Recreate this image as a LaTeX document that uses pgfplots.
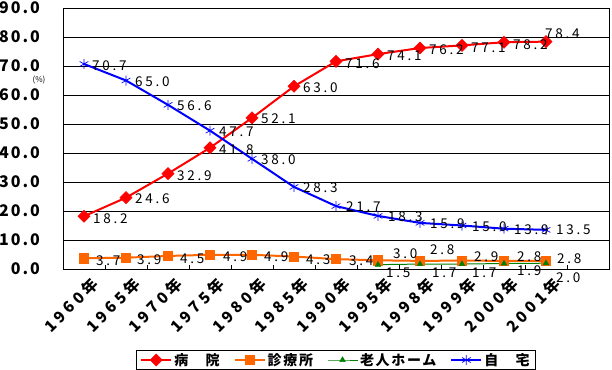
\documentclass[border=0pt]{standalone}
\usepackage{fontspec}
\setmainfont{Noto Sans CJK JP}
\newfontfamily\lblfont[LetterSpace=20]{Noto Sans CJK JP}
\newfontfamily\legfont[LetterSpace=12]{Noto Sans CJK JP}
\newfontfamily\tickfont[LetterSpace=12]{Noto Sans CJK JP}
\newfontfamily\xtickfont[LetterSpace=25]{Noto Sans CJK JP}
\usepackage{pgfplots}
\usepackage{pgfplotstable}
\pgfplotsset{compat=1.18}
\definecolor{cred}{HTML}{FF0000}
\definecolor{corange}{HTML}{FF6600}
\definecolor{cgreen}{HTML}{008000}
\definecolor{cblue}{HTML}{0000FF}

\pgfplotstableread{
x y dx dy
0 18.2 9 -2
1 24.6 9 -1
2 32.9 9 -2
3 41.8 9 -2
4 52.1 9 -1
5 63.0 9 -1
6 71.6 9 -2
7 74.1 9 -2
8 76.2 9 -2
9 77.1 9 -2
10 78.2 9 -2
11 78.4 -1 8
}\hosp

\pgfplotstableread{
x y dx dy
0 3.7 12 -2
1 3.9 11 -2
2 4.5 12 -3
3 4.9 13 -2
4 4.9 12 -2
5 4.3 12 -3
6 3.4 13 -2
7 3.0 15 7
8 2.8 10 11
9 2.9 12 4
10 2.8 13 4
11 2.8 11 2
}\clinic

\pgfplotstableread{
x y dx dy
7 1.5 8 -8
8 1.7 12 -9
9 1.7 10 -9
10 1.9 13 -7
11 2.0 10 -14
}\nursing

\pgfplotstableread{
x y dx dy
0 70.7 8 -2
1 65.0 9 -1
2 56.6 9 -1
3 47.7 9 -1
4 38.0 9 -1
5 28.3 9 -1
6 21.7 10 -1
7 18.3 10 -1
8 15.9 10 -1
9 15.0 10 -1
10 13.9 10 -1
11 13.5 10 0
}\home

\pgfplotsset{
  lbls/.style={
    draw=none, mark=none, forget plot,
    visualization depends on={\thisrow{dx} \as \dx},
    visualization depends on={\thisrow{dy} \as \dy},
    nodes near coords,
    every node near coord/.append style={anchor=west, inner sep=0pt, text=black,
      font=\lblfont\fontsize{13.5}{13.5}\selectfont, xshift=\dx*1pt, yshift=\dy*1pt},
  }
}

\begin{document}
\begin{tikzpicture}
\useasboundingbox (-63pt,-100pt) rectangle (549pt,269pt);
\begin{axis}[
  at={(0,0)}, anchor=south west,
  scale only axis, width=546pt, height=261pt,
  xmin=-0.5, xmax=12.5, ymin=0, ymax=90,
  clip=false,
  ytick={0,10,...,90},
  xtick={0,...,11},
  xticklabels={1960年,1965年,1970年,1975年,1980年,1985年,1990年,1995年,1998年,1999年,2000年,2001年},
  minor xtick={0.5,1.5,...,11.5},
  tick pos=left, tick align=inside,
  major tick length=0pt, minor tick length=4pt,
  minor tick style={black, line width=0.8pt},
  ymajorgrids, major grid style={black, line width=0.8pt},
  axis line style={black, line width=0.8pt},
  /pgf/number format/.cd, fixed, fixed zerofill, precision=1, assume math mode=true, /pgfplots/.cd,
  y tick label style={font=\tickfont\bfseries\fontsize{16}{16}\selectfont, anchor=east, inner sep=0pt, xshift=-23pt},
  x tick label style={font=\xtickfont\bfseries\fontsize{15.5}{15.5}\selectfont, rotate=45, anchor=north east, inner sep=0pt, yshift=-9pt, xshift=0pt},
  legend columns=-1,
  legend style={at={(0.5,0)}, anchor=center, yshift=-91pt, draw=black, line width=1pt,
    font=\legfont\bfseries\fontsize{14}{14}\selectfont, inner ysep=1pt, inner xsep=4pt,
    /tikz/every even column/.append style={column sep=12pt}},
  legend image code/.code={\draw[mark repeat=2, mark phase=2, #1] plot coordinates {(0pt,0pt) (15pt,0pt) (30pt,0pt)};},
]
\addplot[cred, line width=2pt, mark=square*, mark size=4.3pt, mark options={rotate=45, solid, line width=0.5pt, fill=cred}] table[x=x, y=y] {\hosp};
\addlegendentry{病　院}
\addplot[corange, line width=2pt, mark=square*, mark size=4.6pt, mark options={solid, line width=0.5pt, fill=corange}] table[x=x, y=y] {\clinic};
\addlegendentry{診療所}
\addplot[cgreen, line width=1pt, mark=triangle*, mark size=3.2pt, mark options={solid, line width=0.5pt, fill=cgreen}] table[x=x, y=y] {\nursing};
\addlegendentry{老人ホーム}
\addplot[cblue, line width=2pt, mark=asterisk, mark size=5pt, mark options={solid, line width=0.7pt}] table[x=x, y=y] {\home};
\addlegendentry{自　宅}
\addplot[lbls] table[x=x, y=y] {\hosp};
\addplot[lbls] table[x=x, y=y] {\clinic};
\addplot[lbls] table[x=x, y=y] {\nursing};
\addplot[lbls] table[x=x, y=y] {\home};
\node[font=\fontsize{8}{8}\selectfont, inner sep=0pt] at ([xshift=-24pt]rel axis cs:0,0.724) {(\%)};
\end{axis}
\end{tikzpicture}
\end{document}
